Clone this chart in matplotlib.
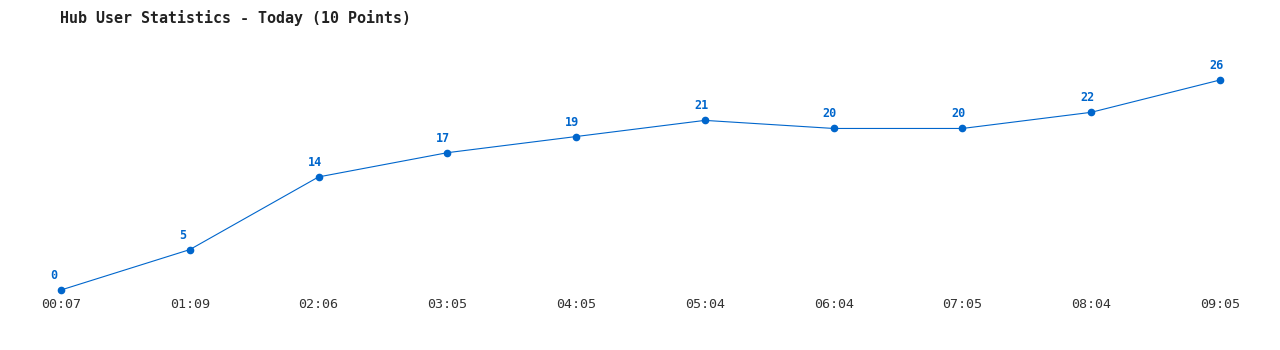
import matplotlib
matplotlib.use("Agg")
import matplotlib.pyplot as plt

# Hub user counts through the day
times = ["00:07", "01:09", "02:06", "03:05", "04:05", "05:04", "06:04", "07:05", "08:04", "09:05"]
users = [0, 5, 14, 17, 19, 21, 20, 20, 22, 26]

blue = "#0066cc"
mono = "DejaVu Sans Mono"

fig = plt.figure(figsize=(12.8, 3.5), dpi=100)
ax = fig.add_axes([61 / 1280, 60 / 350, 1159 / 1280, 210 / 350])

x = list(range(len(times)))
ax.plot(x, users, color=blue, linewidth=0.8, marker="o", markersize=4.5, clip_on=False)

for xi, v in zip(x, users):
    ax.annotate(str(v), (xi, v), xytext=(-11, 8), textcoords="offset pixels",
                ha="left", va="bottom", color=blue, fontsize=8.5,
                fontweight="bold", family=mono)

ax.set_xlim(0, 9)
ax.set_ylim(0, 26)
ax.set_xticks(x)
ax.set_xticklabels(times, family=mono, fontsize=9.6, color="#333333")
ax.tick_params(axis="x", length=0, pad=6)
ax.set_yticks([])
for s in ax.spines.values():
    s.set_visible(False)

fig.text(60 / 1280, 1 - 18 / 350, "Hub User Statistics - Today (10 Points)",
         family=mono, fontsize=10.8, fontweight="bold", color="#222222",
         ha="left", va="center")

fig.savefig("out.png", dpi=100)
